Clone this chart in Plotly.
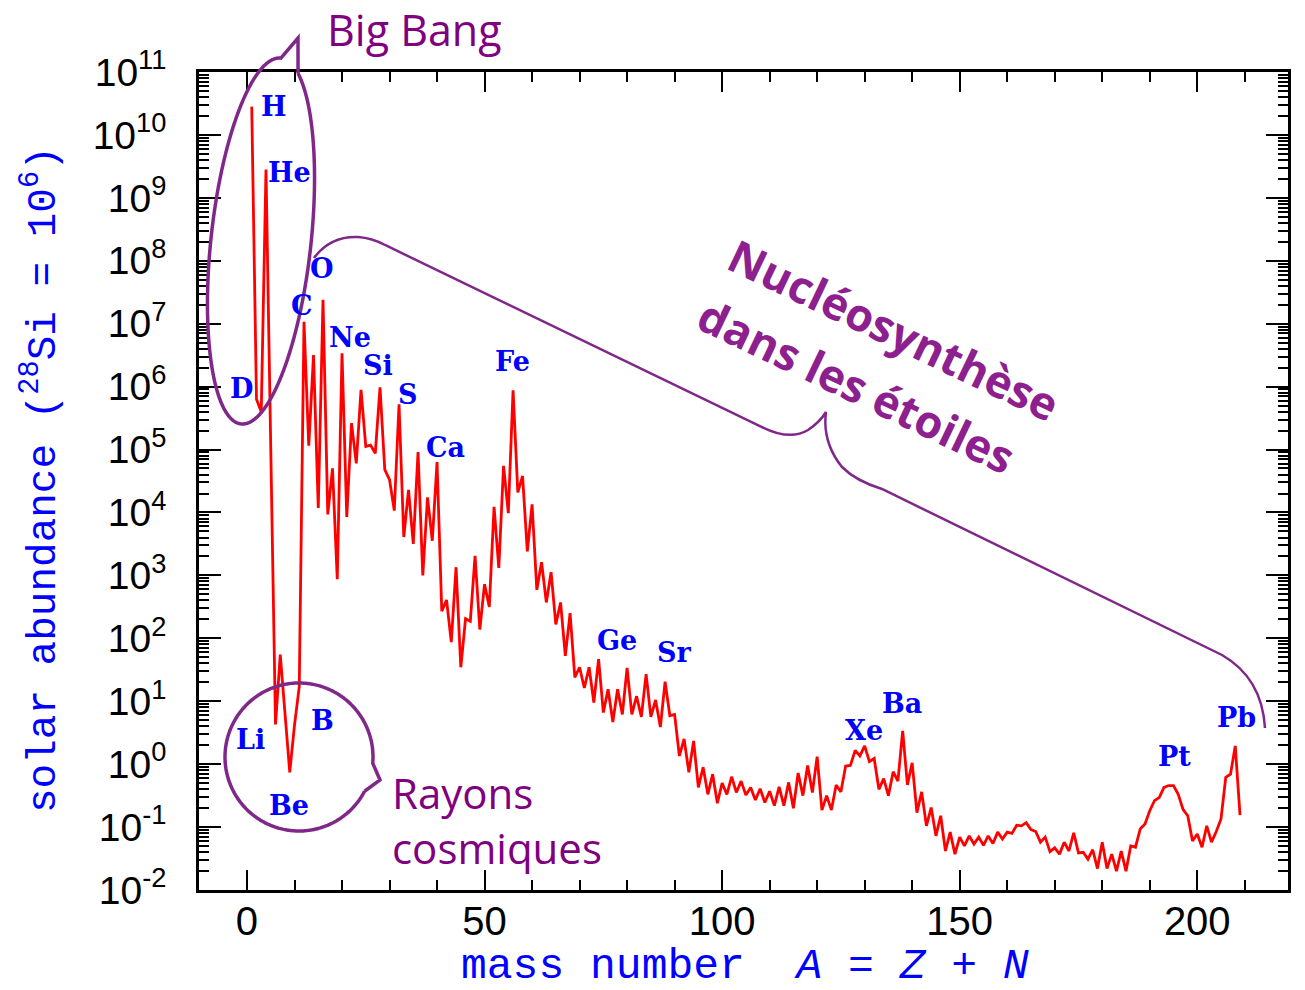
import numpy as np
import plotly.graph_objects as go

# ---------------- data ----------------
mass_number = [1, 2, 3, 4, 6, 7] + list(range(9, 210))
log_abundance = [
    10.45, 5.8, 5.6, 9.45, 0.63, 1.74,
    -0.13, 0.62, 1.23, 7.03, 5.06, 6.50, 4.07, 7.38, 3.97, 4.70, 2.94, 6.53,   # 9-20
    3.93, 5.42, 4.78, 5.95, 5.05, 5.07, 4.94, 5.99, 4.68, 4.52,                # 21-30
    4.03, 5.72, 3.61, 4.36, 3.50, 4.96, 3.00, 4.24, 3.55, 4.80,                # 31-40
    2.43, 2.61, 1.94, 3.13, 1.54, 2.31, 2.27, 3.31, 2.14, 2.86,                # 41-50
    2.50, 4.09, 3.12, 4.74, 3.99, 5.94, 4.32, 4.58, 3.38, 4.13,                # 51-60
    2.77, 3.21, 2.57, 3.05, 2.22, 2.57, 1.72, 2.40, 1.38, 1.54,                # 61-70
    1.21, 1.54, 0.98, 1.67, 0.82, 1.19, 0.67, 1.19, 0.79, 1.53,                # 71-80
    0.79, 1.08, 0.75, 1.43, 0.75, 1.02, 0.59, 1.31, 0.77, 0.79,                # 81-90
    0.13, 0.40, -0.13, 0.37, -0.37, -0.05, -0.48, -0.16, -0.62, -0.30,         # 91-100
    -0.48, -0.20, -0.45, -0.27, -0.49, -0.37, -0.57, -0.39, -0.61, -0.43,      # 101-110
    -0.66, -0.36, -0.66, -0.29, -0.70, -0.14, -0.50, -0.02, -0.45, 0.12,       # 111-120
    -0.73, -0.50, -0.73, -0.33, -0.44, -0.03, -0.02, 0.22, 0.13, 0.29,         # 121-130
    0.04, 0.09, -0.40, -0.23, -0.50, -0.12, -0.27, 0.53, -0.33, 0.02,          # 131-140
    -0.77, -0.44, -0.98, -0.69, -1.14, -0.82, -1.38, -1.08, -1.43, -1.16,      # 141-150
    -1.30, -1.14, -1.27, -1.16, -1.29, -1.14, -1.26, -1.08, -1.19, -1.08,      # 151-160
    -1.10, -0.97, -0.98, -0.93, -1.04, -1.07, -1.24, -1.16, -1.39, -1.33,      # 161-170
    -1.43, -1.24, -1.38, -1.09, -1.41, -1.40, -1.51, -1.36, -1.66, -1.24,      # 171-180
    -1.66, -1.43, -1.70, -1.38, -1.70, -1.30, -1.32, -1.03, -0.95, -0.74,      # 181-190
    -0.58, -0.53, -0.37, -0.34, -0.34, -0.48, -0.72, -0.82, -1.22, -1.11,      # 191-200
    -1.32, -0.98, -1.24, -1.07, -0.87, -0.21, -0.16, 0.29, -0.81,              # 201-209
]
abundance = [10 ** v for v in log_abundance]

y_tick_exponents = list(range(-2, 12))
y_tick_labels = [f"10<sup>{e}</sup>" for e in y_tick_exponents]
x_tick_values = [0, 50, 100, 150, 200]

element_labels = ["H", "He", "D", "O", "C", "Ne", "Si", "S", "Ca", "Fe",
                  "Ge", "Sr", "Xe", "Ba", "Pt", "Pb", "Li", "Be", "B"]

# ---------------- layout geometry (pixels of the 1305x990 page) ----------------
W, H = 1305, 990
PL, PR, PT, PB = 199, 1288, 72, 890   # plot area edges


def px(x, y):
    return (x - PL) / (PR - PL), (PB - y) / (PB - PT)


def path_from(cmds):
    out = []
    for c in cmds:
        letter, pts = c[0], c[1:]
        seg = [letter]
        for (x, y) in pts:
            X, Y = px(x, y)
            seg.append(f"{X:.5f},{Y:.5f}")
        out.append(" ".join(seg))
    return " ".join(out)


label_pos = [(274, 107), (289, 172), (241, 388), (322, 268), (302, 305),
             (350, 337), (378, 365), (408, 394), (445, 447), (512, 361),
             (617, 640), (674, 652), (864, 730), (902, 703), (1174, 756),
             (1236, 717), (250, 739), (289, 805), (322, 720)]

PURPLE_LINE = "#80288A"
PURPLE_TEXT = "#800080"
PURPLE_BOLD = "#8E1F8E"
BLUE = "#0000FF"

fig = go.Figure()
fig.add_trace(go.Scatter(x=mass_number, y=abundance, mode="lines",
                         line=dict(color="#FF0000", width=2.8),
                         showlegend=False, hoverinfo="skip"))

axis_common = dict(showline=True, linecolor="black", linewidth=2.5, mirror="allticks",
                   ticks="inside", tickcolor="black", tickwidth=2, showgrid=False,
                   zeroline=False)

fig.update_xaxes(range=[-10.1, 219.1], tickvals=x_tick_values, ticklen=20,
                 minor=dict(ticks="inside", dtick=10, ticklen=10, tickwidth=2,
                            tickcolor="black", showgrid=False),
                 tickfont=dict(family="Liberation Sans", size=40, color="black"),
                 ticklabelstandoff=-6, **axis_common)
fig.update_yaxes(type="log", range=[-2, 11],
                 tickvals=[10.0 ** e for e in y_tick_exponents], ticktext=y_tick_labels,
                 ticklen=22,
                 minor=dict(ticks="inside", dtick="D1", ticklen=10, tickwidth=1.5,
                            tickcolor="black", showgrid=False),
                 tickfont=dict(family="Liberation Sans", size=39, color="black"),
                 ticklabelstandoff=22, **axis_common)

annotations = []
for name, (x, y) in zip(element_labels, label_pos):
    X, Y = px(x, y)
    annotations.append(dict(x=X, y=Y, xref="paper", yref="paper", text=f"<b>{name}</b>",
                            showarrow=False, xanchor="center", yanchor="middle",
                            font=dict(family="DejaVu Serif", size=27, color=BLUE)))

# axis titles
X, Y = px(745, 966)
annotations.append(dict(x=X, y=Y, xref="paper", yref="paper",
                        text="mass number  <i>A</i> = <i>Z</i> + <i>N</i>",
                        showarrow=False, xanchor="center", yanchor="middle",
                        font=dict(family="Liberation Mono", size=43, color=BLUE)))
X, Y = px(40, 480)
annotations.append(dict(x=X, y=Y, xref="paper", yref="paper",
                        text="solar abundance (<sup>28</sup>Si = 10<sup>6</sup>)",
                        textangle=-90, showarrow=False, xanchor="center", yanchor="middle",
                        font=dict(family="Liberation Mono", size=41, color=BLUE)))

# purple comments
X, Y = px(414, 30)
annotations.append(dict(x=X, y=Y, xref="paper", yref="paper", text="Big Bang",
                        showarrow=False, xanchor="center", yanchor="middle",
                        font=dict(family="Open Sans", size=43, color=PURPLE_TEXT)))
X, Y = px(390, 820)
annotations.append(dict(x=X, y=Y, xref="paper", yref="paper", text="Rayons<br>cosmiques",
                        showarrow=False, xanchor="left", yanchor="middle", align="left",
                        font=dict(family="Open Sans", size=42, color=PURPLE_TEXT)))
for txt, (x, y) in [("Nucléosynthèse", (894, 330)), ("dans les étoiles", (857, 385))]:
    X, Y = px(x, y)
    annotations.append(dict(x=X, y=Y, xref="paper", yref="paper", text=f"<b>{txt}</b>",
                            textangle=25.5, showarrow=False, xanchor="center",
                            yanchor="middle",
                            font=dict(family="Open Sans", size=45, color=PURPLE_BOLD)))

# ---------------- shapes ----------------
shapes = []

# tilted ellipse around H / He / D with pointer to "Big Bang"
cx, cy, a, b = 261, 241, 184, 50
th = np.radians(6.2)
u = np.array([np.sin(th), -np.cos(th)])
v = np.array([np.cos(th), np.sin(th)])
t = np.linspace(0, 2 * np.pi, 721)
pts = np.array([[cx, cy]]) + np.outer(a * np.cos(t), u) + np.outer(b * np.sin(t), v)
p_left = np.array([283, 63])
p_right = np.array([300, 72])
i_r = int(np.argmin(np.linalg.norm(pts[:360] - p_right, axis=1)))
i_l = 360 + int(np.argmin(np.linalg.norm(pts[360:] - p_left, axis=1)))
seq = pts[i_r:i_l + 1]
cmds = [("M", tuple(seq[0]))] + [("L", tuple(p)) for p in seq[1:]]
cmds += [("L", (298, 38)), ("L", tuple(seq[0]))]
shapes.append(dict(type="path", xref="paper", yref="paper", path=path_from(cmds),
                   line=dict(color=PURPLE_LINE, width=3.5)))

# circle with notch around Li / Be / B
ccx, ccy, r = 299, 757, 74
phi = np.radians(np.linspace(27.6, 364.8, 400))
circ = np.column_stack([ccx + r * np.cos(phi), ccy + r * np.sin(phi)])
cmds = [("M", tuple(circ[0]))] + [("L", tuple(p)) for p in circ[1:]]
cmds += [("L", (380, 780)), ("L", tuple(circ[0]))]
shapes.append(dict(type="path", xref="paper", yref="paper", path=path_from(cmds),
                   line=dict(color=PURPLE_LINE, width=3.5)))

# curly brace for stellar nucleosynthesis
brace = [("M", (314, 258)), ("Q", (330, 236), (358, 237)), ("Q", (372, 238), (385, 245)),
         ("L", (762, 427)), ("Q", (790, 441), (808, 430)), ("Q", (820, 422), (826, 412)),
         ("Q", (822, 442), (842, 467)), ("Q", (856, 481), (882, 489)),
         ("L", (1222, 655)), ("Q", (1262, 678), (1265, 728))]
shapes.append(dict(type="path", xref="paper", yref="paper", path=path_from(brace),
                   line=dict(color=PURPLE_LINE, width=2.5)))

fig.update_layout(width=W, height=H, margin=dict(l=PL, r=W - PR, t=PT, b=H - PB),
                  paper_bgcolor="white", plot_bgcolor="white",
                  annotations=annotations, shapes=shapes, showlegend=False)

fig.write_html("out.html")
